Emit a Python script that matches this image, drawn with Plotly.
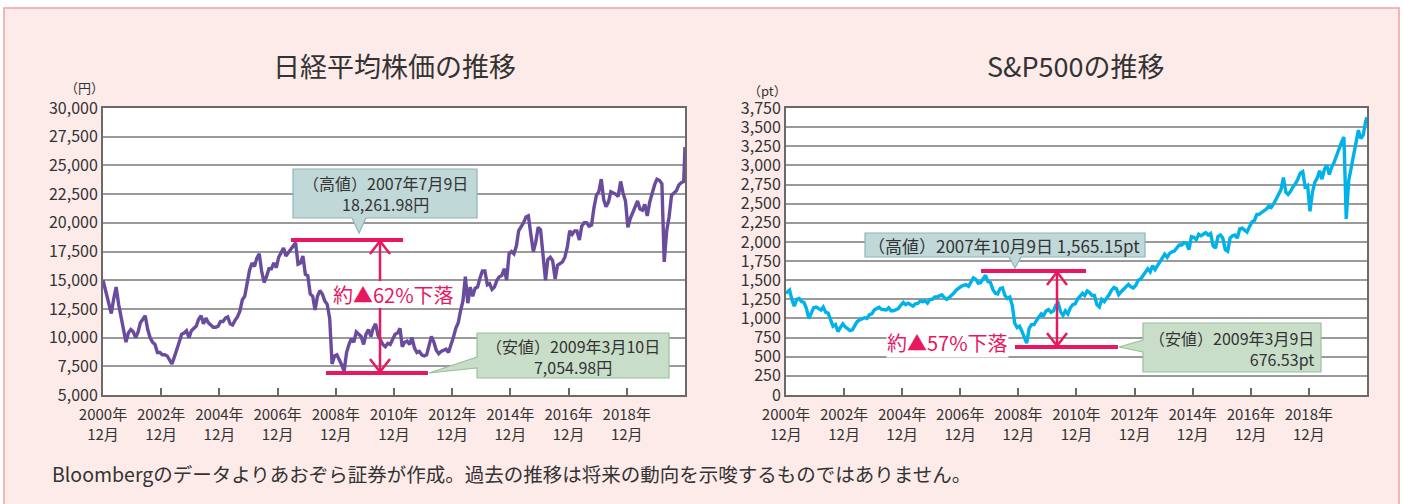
import pandas as pd
import plotly.graph_objects as go

W, H = 1403, 504
FONT = "Noto Sans CJK JP"

# ---------------- data ----------------
# dates: 2000-12-01, mid-month Jan 2001 .. Nov 2020, then 2020-12-01
dates = ([pd.Timestamp("2000-12-01")]
         + list(pd.date_range("2001-01-01", "2020-11-01", freq="MS") + pd.Timedelta(days=14))
         + [pd.Timestamp("2020-12-01")])

nikkei = [15000,
    13800, 12900, 12100, 13400, 14400, 12900, 11900, 10700, 9600, 10400, 10700, 10500,
    10000, 10500, 11300, 11600, 11900, 10700, 10000, 9600, 9400, 8700, 8700, 8500,
    8500, 8400, 8000, 7700, 8300, 9100, 9600, 10300, 10400, 10600, 10000, 10600,
    10800, 11000, 11600, 11900, 11200, 11700, 11300, 11100, 10900, 10900, 11000, 11400,
    11400, 11700, 11800, 11200, 11100, 11500, 11800, 12300, 13300, 13600, 14700, 15900,
    16500, 16200, 16900, 17300, 15800, 14800, 15300, 16000, 16000, 16500, 16100, 17000,
    17400, 17800, 17100, 17400, 17700, 18000, 18262, 16400, 16500, 17100, 15500, 15400,
    13800, 13600, 12400, 13600, 14100, 13800, 13200, 12900, 11700, 7700, 8400, 8500,
    8100, 7600, 7055, 8700, 9400, 9900, 9600, 10500, 10300, 10100, 9400, 10300,
    10700, 10100, 10800, 11200, 10200, 9700, 9400, 9200, 9500, 9400, 9800, 10300,
    10400, 10800, 9200, 9600, 9700, 9400, 10000, 9100, 8700, 8800, 8500, 8400,
    8500, 9500, 10100, 9600, 8900, 8600, 8800, 8900, 9000, 8700, 9300, 10000,
    10800, 11300, 12300, 13200, 15300, 13000, 14400, 13600, 14300, 14400, 15200, 15800,
    15800, 14600, 14700, 14200, 14400, 15000, 15300, 15400, 16000, 15000, 17300, 17500,
    17300, 18000, 19300, 19600, 20000, 20500, 20600, 19000, 17500, 18300, 19600, 19400,
    17500, 15000, 16800, 17000, 16700, 15100, 16300, 16500, 16600, 17000, 17900, 19300,
    19000, 19300, 19300, 18500, 19700, 20000, 20000, 19700, 19800, 21300, 22400, 22700,
    23800, 22000, 21400, 21800, 22700, 22600, 22500, 22300, 23600, 22600, 21900, 19600,
    20400, 20900, 21400, 21900, 21200, 21100, 21600, 20600, 21800, 22600, 23300, 23800,
    23700, 23400, 16600, 19300, 20500, 22400, 22600, 22800, 23300, 23500, 23600, 26600]

sp500 = [1330,
    1370, 1240, 1160, 1250, 1260, 1220, 1210, 1130, 1000, 1070, 1140, 1150,
    1130, 1110, 1150, 1080, 1070, 990, 900, 920, 830, 880, 930, 890,
    860, 840, 850, 910, 960, 980, 990, 1010, 1000, 1050, 1060, 1110,
    1130, 1145, 1120, 1110, 1110, 1140, 1100, 1100, 1115, 1130, 1175, 1210,
    1180, 1200, 1180, 1160, 1190, 1195, 1230, 1220, 1230, 1200, 1250, 1250,
    1280, 1280, 1295, 1310, 1270, 1250, 1275, 1300, 1335, 1375, 1400, 1420,
    1435, 1440, 1420, 1480, 1530, 1510, 1460, 1470, 1525, 1565, 1480, 1470,
    1380, 1330, 1320, 1390, 1400, 1300, 1260, 1280, 1170, 940, 880, 900,
    830, 740, 677, 870, 920, 920, 980, 1020, 1060, 1040, 1100, 1115,
    1080, 1100, 1170, 1200, 1090, 1040, 1100, 1060, 1140, 1180, 1190, 1255,
    1290, 1330, 1300, 1360, 1340, 1300, 1300, 1180, 1150, 1250, 1220, 1260,
    1310, 1370, 1405, 1390, 1310, 1350, 1380, 1410, 1445, 1415, 1400, 1430,
    1500, 1515, 1560, 1590, 1650, 1610, 1690, 1640, 1690, 1750, 1800, 1840,
    1800, 1850, 1870, 1880, 1920, 1960, 1960, 1990, 1980, 1900, 2070, 2060,
    2030, 2100, 2080, 2100, 2120, 2090, 2110, 1950, 1920, 2070, 2090, 2050,
    1900, 1880, 2050, 2080, 2090, 2050, 2170, 2180, 2160, 2130, 2200, 2260,
    2280, 2360, 2360, 2380, 2400, 2430, 2470, 2450, 2500, 2560, 2620, 2680,
    2840, 2650, 2620, 2660, 2720, 2760, 2820, 2900, 2920, 2720, 2740, 2400,
    2650, 2780, 2830, 2930, 2820, 2950, 3000, 2880, 2980, 3040, 3130, 3220,
    3300, 3370, 2300, 2800, 2960, 3110, 3240, 3460, 3350, 3400, 3580, 3630]

tick_years = [2000, 2002, 2004, 2006, 2008, 2010, 2012, 2014, 2016, 2018]
tick_vals = [f"{y}-12-01" for y in tick_years]
tick_text = [f"{y}年<br>12月" for y in tick_years]

nk_ticks = list(range(5000, 30001, 2500))
sp_ticks = list(range(0, 3751, 250))

titles = ["日経平均株価の推移", "S&P500の推移"]
units = ["（円）", "（pt）"]
nk_high_label = "（高値）2007年7月9日<br>18,261.98円"
nk_low_label = "（安値）2009年3月10日<br>7,054.98円"
sp_high_label = "（高値）2007年10月9日 1,565.15pt"
sp_low_label = "（安値）2009年3月9日<br>676.53pt"
nk_drop = "約▲62%下落"
sp_drop = "約▲57%下落"
note = "Bloombergのデータよりあおぞら証券が作成。過去の推移は将来の動向を示唆するものではありません。"

# ---------------- styling ----------------
PINK_BG = "#fdebe9"
PINK_LINE = "#f0a2a2"
RED = "#e8175f"
NK_COLOR = "#6a4c9e"
SP_COLOR = "#00b2ea"
GRID = "#9a9a9a"
AXIS = "#6a6a6a"
TEXT = "#333333"
HI_FILL, HI_LINE = "#c1d8d8", "#8db6b8"
LO_FILL, LO_LINE = "#c9dec9", "#98c29b"


def fx(x):
    return x / W


def fy(y):
    return 1 - y / H


fig = go.Figure()
fig.add_trace(go.Scatter(x=dates, y=nikkei, mode="lines", line=dict(color=NK_COLOR, width=3.4),
                         xaxis="x", yaxis="y", showlegend=False, hoverinfo="skip"))
fig.add_trace(go.Scatter(x=dates, y=sp500, mode="lines", line=dict(color=SP_COLOR, width=3.4),
                         xaxis="x2", yaxis="y2", showlegend=False, hoverinfo="skip"))

xcommon = dict(range=["2000-12-01", "2020-12-01"], tickvals=tick_vals, ticktext=tick_text,
               ticks="inside", ticklen=7, tickwidth=1.5, tickcolor=AXIS, showgrid=False,
               showline=True, mirror=True, linecolor=AXIS, linewidth=2, automargin=False,
               ticklabelstandoff=5,
               tickfont=dict(size=15, color=TEXT, family=FONT), zeroline=False)
ycommon = dict(showgrid=True, gridcolor=GRID, gridwidth=1.5, showline=True, mirror=True,
               linecolor=AXIS, linewidth=2, ticks="", tickformat=",", zeroline=False,
               automargin=False, tickfont=dict(size=16, color=TEXT, family=FONT))

fig.update_layout(
    width=W, height=H, autosize=False, margin=dict(l=0, r=0, t=0, b=0, pad=0),
    paper_bgcolor=PINK_BG, plot_bgcolor="white",
    font=dict(family=FONT, color=TEXT),
    xaxis=dict(domain=[fx(103), fx(685)], anchor="y", **xcommon),
    yaxis=dict(domain=[fy(395), fy(108)], anchor="x", range=[5000, 30000], tickvals=nk_ticks, **ycommon),
    xaxis2=dict(domain=[fx(786), fx(1367)], anchor="y2", **xcommon),
    yaxis2=dict(domain=[fy(395), fy(108)], anchor="x2", range=[0, 3750], tickvals=sp_ticks, **ycommon),
)

shapes = []
# white surround and pink panel border
shapes.append(dict(type="rect", xref="paper", yref="paper", x0=-0.01, x1=1.01, y0=fy(8), y1=1.01,
                   fillcolor="white", line=dict(width=0), layer="above"))
shapes.append(dict(type="rect", xref="paper", yref="paper", x0=-0.01, x1=fx(4), y0=-0.01, y1=1.01,
                   fillcolor="white", line=dict(width=0), layer="above"))
shapes.append(dict(type="rect", xref="paper", yref="paper", x0=fx(1399), x1=1.01, y0=-0.01, y1=1.01,
                   fillcolor="white", line=dict(width=0), layer="above"))
shapes.append(dict(type="rect", xref="paper", yref="paper", x0=fx(4), x1=fx(1399), y0=fy(510), y1=fy(8),
                   fillcolor="rgba(0,0,0,0)", line=dict(color=PINK_LINE, width=1.5), layer="above"))


def path(points):
    return "M " + " L ".join(f"{fx(x):.5f},{fy(y):.5f}" for x, y in points) + " Z"


def bubble_down(x0, y0, x1, y1, tx, ty, hw, fill, line):
    pts = [(x0, y0), (x1, y0), (x1, y1), (tx + hw, y1), (tx, ty), (tx - hw, y1), (x0, y1)]
    shapes.append(dict(type="path", xref="paper", yref="paper", path=path(pts),
                       fillcolor=fill, line=dict(color=line, width=1.2), layer="above"))


def bubble_left(x0, y0, x1, y1, wy0, wy1, tx, ty, fill, line):
    pts = [(x0, y0), (x1, y0), (x1, y1), (x0, y1), (x0, wy1), (tx, ty), (x0, wy0)]
    shapes.append(dict(type="path", xref="paper", yref="paper", path=path(pts),
                       fillcolor=fill, line=dict(color=line, width=1.2), layer="above"))


def hbar(x0, x1, y):
    shapes.append(dict(type="line", xref="paper", yref="paper", x0=fx(x0), x1=fx(x1), y0=fy(y), y1=fy(y),
                       line=dict(color=RED, width=4), layer="above"))


def vseg(x, y0, y1):
    shapes.append(dict(type="line", xref="paper", yref="paper", x0=fx(x), x1=fx(x), y0=fy(y0), y1=fy(y1),
                       line=dict(color=RED, width=2.5), layer="above"))


def darrow(x, ytop, ybot, gap=None, hw=10, hh=13):
    if gap:
        vseg(x, ytop + 1, gap[0])
        vseg(x, gap[1], ybot - 1)
    else:
        vseg(x, ytop + 1, ybot - 1)
    for tip, d in ((ytop + 1, 1), (ybot - 1, -1)):
        shapes.append(dict(type="path", xref="paper", yref="paper",
                           path=f"M {fx(x-hw):.5f},{fy(tip+d*hh):.5f} L {fx(x):.5f},{fy(tip):.5f} L {fx(x+hw):.5f},{fy(tip+d*hh):.5f}",
                           line=dict(color=RED, width=2.5), layer="above"))


# Nikkei decorations
hbar(291, 403, 240)
hbar(326, 428, 373)
darrow(380, 240, 373, gap=(281, 308))
bubble_down(293, 169, 477, 218, 359, 233, 7, HI_FILL, HI_LINE)
bubble_left(477, 333, 669, 378, 357, 368, 429, 373, LO_FILL, LO_LINE)
# S&P decorations
hbar(981, 1086, 271)
hbar(1015, 1118, 347)
darrow(1057, 271, 347)
bubble_down(865, 233, 1145, 257, 1015, 268, 6, HI_FILL, HI_LINE)
bubble_left(1143, 323, 1321, 372, 340, 352, 1119, 347, LO_FILL, LO_LINE)

fig.update_layout(shapes=shapes)

ann = []


def text(x, y, s, size, color=TEXT, xanchor="center", align="center", bg=None):
    d = dict(x=fx(x), y=fy(y), xref="paper", yref="paper", text=s, showarrow=False,
             xanchor=xanchor, yanchor="middle", align=align,
             font=dict(size=size, color=color, family=FONT))
    if bg:
        d.update(bgcolor=bg, borderpad=0)
    ann.append(d)


text(394, 66, titles[0], 27)
text(1076, 66, titles[1], 27)
text(84, 87, units[0], 13)
text(767, 90, units[1], 13)
text(385, 194, nk_high_label, 16)
text(573, 356, nk_low_label, 16)
text(1004, 245, sp_high_label, 17)
text(1316, 348, sp_low_label, 16, xanchor="right", align="right")
text(393, 294, nk_drop, 20, color=RED)
text(947, 342, sp_drop, 20, color=RED, bg="white")
text(50, 473, note, 19.5, xanchor="left", align="left")

fig.update_layout(annotations=ann)
fig.write_html("out.html", config={"responsive": False, "displayModeBar": False},
               post_script="document.body.style.margin='0px';document.body.style.overflow='hidden';")
